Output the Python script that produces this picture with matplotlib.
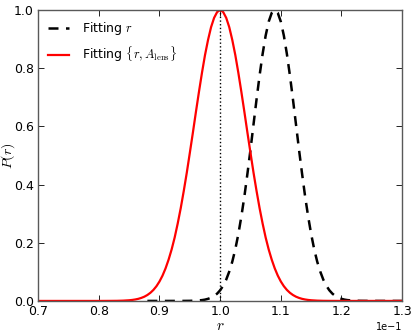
import matplotlib
matplotlib.use("Agg")
import matplotlib.pyplot as plt
import numpy as np

plt.rcParams['mathtext.fontset'] = 'cm'
plt.rcParams['font.family'] = 'DejaVu Sans'

## Posterior for fitting r only (dashed black)
r_fit_r = np.array([0.0880, 0.0920, 0.0940, 0.0950, 0.0960, 0.0970, 0.0975, 0.0980, 0.0985,
                    0.0990, 0.0995, 0.1000, 0.1005, 0.1010, 0.1015, 0.1020, 0.1025, 0.1030,
                    0.1035, 0.1040, 0.1045, 0.1050, 0.1055, 0.1060, 0.1065, 0.1070, 0.1075,
                    0.1080, 0.1085, 0.1090, 0.1095, 0.1100, 0.1105, 0.1110, 0.1115, 0.1120,
                    0.1125, 0.1130, 0.1135, 0.1140, 0.1145, 0.1150, 0.1155, 0.1160, 0.1165,
                    0.1170, 0.1175, 0.1180, 0.1185, 0.1190, 0.1195, 0.1200, 0.1205, 0.1210,
                    0.1220, 0.1230, 0.1240, 0.1260, 0.1300])
p_fit_r = np.array([0.0, 0.0, 0.0001, 0.0003, 0.0010, 0.0028, 0.0045, 0.0072, 0.0111,
                    0.0169, 0.0251, 0.0367, 0.0524, 0.0734, 0.101, 0.135, 0.178, 0.230,
                    0.291, 0.360, 0.438, 0.520, 0.607, 0.693, 0.775, 0.849, 0.912,
                    0.960, 0.990, 1.000, 0.990, 0.960, 0.912, 0.849, 0.775, 0.693,
                    0.607, 0.520, 0.438, 0.360, 0.291, 0.230, 0.178, 0.135, 0.101,
                    0.0734, 0.0524, 0.0367, 0.0251, 0.0169, 0.0111, 0.0072, 0.0045, 0.0028,
                    0.0010, 0.0003, 0.0001, 0.0, 0.0])

## Posterior for fitting {r, A_lens} (solid red)
r_fit_ra = np.array([0.0700, 0.0800, 0.0820, 0.0830, 0.0840, 0.0850, 0.0855, 0.0860, 0.0865,
                     0.0870, 0.0875, 0.0880, 0.0885, 0.0890, 0.0895, 0.0900, 0.0905, 0.0910,
                     0.0915, 0.0920, 0.0925, 0.0930, 0.0935, 0.0940, 0.0945, 0.0950, 0.0955,
                     0.0960, 0.0965, 0.0970, 0.0975, 0.0980, 0.0985, 0.0990, 0.0995, 0.1000,
                     0.1005, 0.1010, 0.1015, 0.1020, 0.1025, 0.1030, 0.1035, 0.1040, 0.1045,
                     0.1050, 0.1055, 0.1060, 0.1065, 0.1070, 0.1075, 0.1080, 0.1085, 0.1090,
                     0.1095, 0.1100, 0.1105, 0.1110, 0.1115, 0.1120, 0.1125, 0.1130, 0.1135,
                     0.1140, 0.1145, 0.1150, 0.1160, 0.1170, 0.1180, 0.1200, 0.1300])
p_fit_ra = np.array([0.0, 0.0, 0.0002, 0.0004, 0.0010, 0.0023, 0.0034, 0.0050, 0.0072,
                     0.0104, 0.0146, 0.0204, 0.0280, 0.0379, 0.0507, 0.0669, 0.0871, 0.112,
                     0.142, 0.177, 0.218, 0.266, 0.319, 0.378, 0.441, 0.509, 0.578,
                     0.649, 0.718, 0.784, 0.845, 0.897, 0.941, 0.973, 0.993, 1.000,
                     0.993, 0.973, 0.941, 0.897, 0.845, 0.784, 0.718, 0.649, 0.578,
                     0.509, 0.441, 0.378, 0.319, 0.266, 0.218, 0.177, 0.142, 0.112,
                     0.0871, 0.0669, 0.0507, 0.0379, 0.0280, 0.0204, 0.0146, 0.0104, 0.0072,
                     0.0050, 0.0034, 0.0023, 0.0010, 0.0004, 0.0002, 0.0, 0.0])

r_fid = 0.1

fig = plt.figure(figsize=(4.15, 3.34), dpi=100)
ax = fig.add_axes([0.092, 0.099, 0.877, 0.871])

ax.plot(r_fit_r, p_fit_r, 'k--', lw=1.8, dashes=(4, 3), label=r"Fitting $r$")
ax.plot(r_fit_ra, p_fit_ra, 'r-', lw=1.6, label=r"Fitting $\{r, A_{\rm lens}\}$")
ax.plot([r_fid, r_fid], [0, 1], 'k:', lw=1.0)

ax.set_xlim(0.07, 0.13)
ax.set_ylim(0, 1)
ax.set_xticks(np.arange(0.07, 0.1301, 0.01))
ax.set_yticks([0, 0.2, 0.4, 0.6, 0.8, 1.0])
ax.ticklabel_format(axis='x', style='sci', scilimits=(0, 0))
ax.xaxis.get_offset_text().set_fontsize(7)
ax.tick_params(direction='in', top=True, right=True, length=4, width=0.6, labelsize=9, pad=3)
for sp in ax.spines.values():
    sp.set_color('0.35')
    sp.set_linewidth(1.0)

ax.set_xlabel(r"$r$", fontsize=11, labelpad=0)
ax.set_ylabel(r"$P(r)$", fontsize=10)
ax.yaxis.set_label_coords(-0.058, 0.5)
ax.legend(loc='upper left', frameon=False, fontsize=9, handlelength=1.7,
          borderaxespad=0.4, labelspacing=0.6, handletextpad=1.0)

fig.savefig("out.png", dpi=100)
